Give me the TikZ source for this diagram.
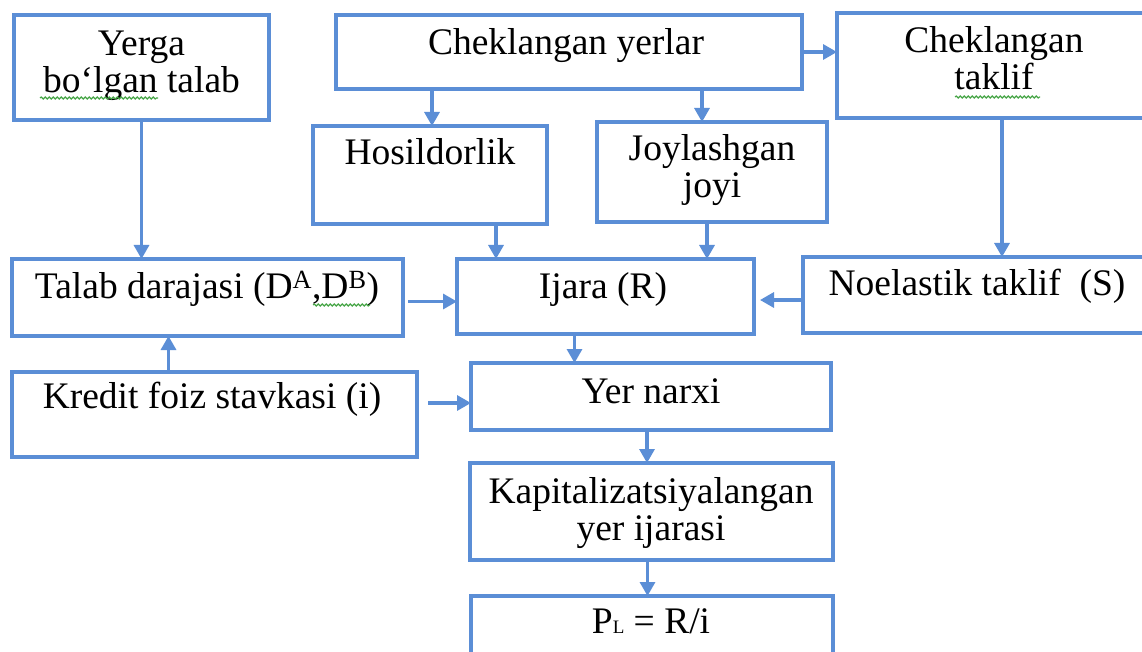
\documentclass[tikz,border=0pt]{standalone}
\usepackage{fontspec}
\setmainfont{Liberation Serif}
\usetikzlibrary{arrows.meta,calc,decorations.pathmorphing}
\definecolor{boxblue}{RGB}{91,142,214}
\definecolor{spellgreen}{RGB}{70,165,70}
\begin{document}
\begin{tikzpicture}[x=1pt,y=-1pt,
  bx/.style 2 args={draw=boxblue,line width=3.2pt,minimum width=#1,minimum height=#2,inner sep=0pt,outer sep=0pt},
  txt/.style={font=\fontsize{37.5}{37}\selectfont,align=center,anchor=base,inner sep=0pt},
  arr/.style={draw=boxblue,line width=3.2pt,-{Triangle[length=14pt,width=15pt]}},
  spell/.style={draw=spellgreen,line width=1.1pt,decorate,decoration={snake,segment length=4pt,amplitude=1pt}}]
\useasboundingbox (0,0) rectangle (1142,652);
\clip (0,0) rectangle (1142,652);
\fill[white] (0,0) rectangle (1142,652);
% boxes
\node[bx={255pt}{105pt}] (A) at (141.5,67.5) {};
\node[bx={466pt}{74pt}] (B) at (569,52) {};
\node[bx={314pt}{105pt}] (C) at (994,65.5) {};
\node[bx={234pt}{98pt}] (D) at (430,175) {};
\node[bx={230pt}{100pt}] (E) at (712,172) {};
\node[bx={391pt}{77pt}] (F) at (207.5,297.5) {};
\node[bx={297pt}{75pt}] (G) at (605.5,296.5) {};
\node[bx={348pt}{76pt}] (H) at (977,295) {};
\node[bx={405pt}{85pt}] (I) at (214.5,414.5) {};
\node[bx={360pt}{67pt}] (J) at (651,396.5) {};
\node[bx={363pt}{97pt}] (K) at (651.5,511.5) {};
\node[bx={362pt}{104pt}] (L) at (652,648) {};
% texts (multi-line: base = last line)
\node[txt] (tA) at (141.5,93) {Yerga\\bo‘lgan talab};
\node[txt] (tB) at (566,55) {Cheklangan yerlar};
\node[txt] (tC) at (994,90) {Cheklangan\\taklif};
\node[txt] (tD) at (430,165) {Hosildorlik};
\node[txt] (tE) at (712,198) {Joylashgan\\joyi};
\node[txt] (tF) at (207,298) {Talab darajasi (D\textsuperscript{A},D\textsuperscript{B})};
\node[txt] (tG) at (603,298) {Ijara (R)};
\node[txt] (tH) at (977,295) {Noelastik taklif\ \ (S)};
\node[txt] (tI) at (212,408) {Kredit foiz stavkasi (i)};
\node[txt] (tJ) at (651,403) {Yer narxi};
\node[txt] (tK) at (651,540) {Kapitalizatsiyalangan\\yer ijarasi};
\node[txt] (tL) at (651,633) {P{\fontsize{19}{19}\selectfont L} = R/i};
% spell-check underlines
\draw[spell] (40,98) -- (158,98);
\draw[spell] (955,97) -- (1040,97);
\draw[spell] (313,305) -- (370,305);
% connectors
\draw[arr] (B.east) -- (B.east -| C.west);
\draw[arr] ($(B.south -| D.north)+(2,0)$) coordinate (b1) -- (b1 |- D.north);
\draw[arr] ($(B.south -| E.north)+(-10,0)$) coordinate (b2) -- (b2 |- E.north);
\draw[arr] ($(D.south)+(66,0)$) coordinate (d1) -- (d1 |- G.north);
\draw[arr] ($(E.south)+(-5,0)$) coordinate (e1) -- (e1 |- G.north);
\draw[arr] (A.south) -- (A.south |- F.north);
\draw[arr] ($(C.south)+(8,0)$) coordinate (c1) -- (c1 |- H.north);
\draw[arr] ($(F.east)+(5,4)$) coordinate (f1) -- (f1 -| G.west);
\draw[arr] ($(H.west)+(0,5)$) coordinate (h1) -- ($(h1 -| G.east)+(6,0)$);
\draw[arr] ($(G.south)+(-31,0)$) coordinate (g1) -- (g1 |- J.north);
\draw[arr] ($(I.north)+(-46,0)$) coordinate (i1) -- (i1 |- F.south);
\draw[arr] ($(I.east)+(11,-11.5)$) coordinate (i2) -- (i2 -| J.west);
\draw[arr] ($(J.south)+(-4,0)$) coordinate (j1) -- (j1 |- K.north);
\draw[arr] ($(K.south)+(-4,0)$) coordinate (k1) -- (k1 |- L.north);
\end{tikzpicture}
\end{document}
